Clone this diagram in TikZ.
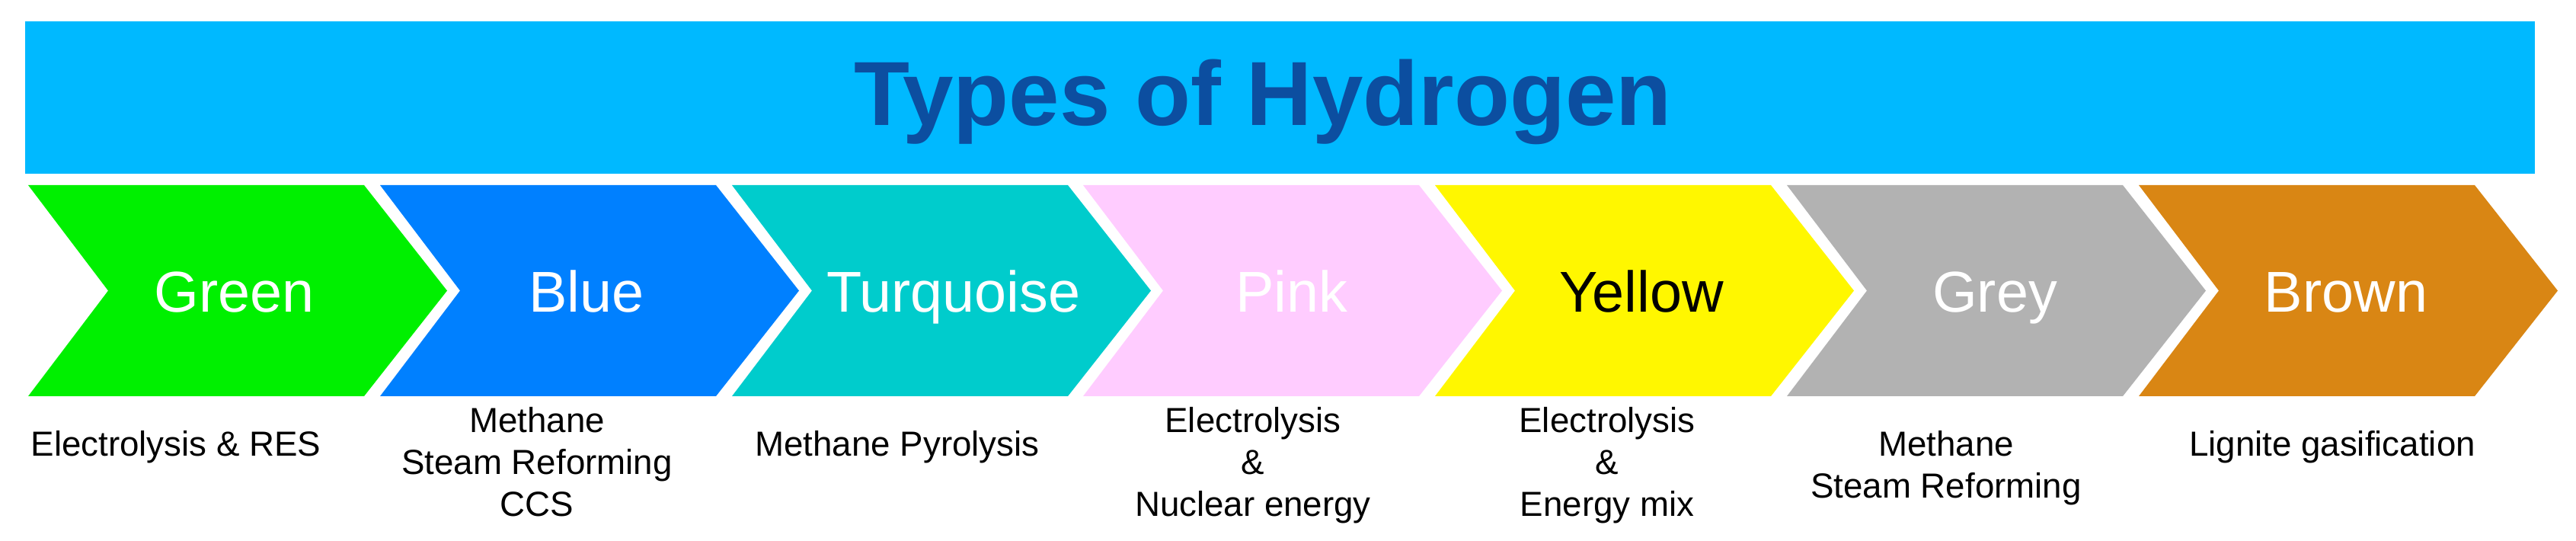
\documentclass[tikz,border=0pt]{standalone}
\usepackage{fontspec}
\setmainfont{Liberation Sans}
\usepackage{xcolor}
\usepackage{tikz}

\definecolor{bannerblue}{RGB}{0,185,255}
\definecolor{titleblue}{RGB}{12,78,160}
\definecolor{hgreen}{RGB}{0,240,0}
\definecolor{hblue}{RGB}{0,128,255}
\definecolor{hturq}{RGB}{0,204,204}
\definecolor{hpink}{RGB}{255,204,255}
\definecolor{hyellow}{RGB}{255,247,0}
\definecolor{hgrey}{RGB}{178,178,178}
\definecolor{hbrown}{RGB}{217,134,20}

\begin{document}
\begin{tikzpicture}[scale=1.0,
  kind/.style={font=\fontsize{21.5}{26}\selectfont, text=white, anchor=base, inner sep=0pt},
  route/.style={font=\fontsize{13}{15.6}\selectfont, align=center, anchor=north, inner sep=0pt}]

\useasboundingbox (0,0) rectangle (33.82,7.10);

% Title banner
\fill[bannerblue] (0.33,4.82) rectangle (33.28,6.82);
\node[font=\fontsize{34}{40}\selectfont\bfseries, text=titleblue, anchor=base, inner sep=0pt] (title) at (16.58,5.45) {Types of Hydrogen};

% Chevrons
\fill[hgreen] (0.37,4.67) -- ++(4.41,0) -- ++(1.09,-1.385) -- ++(-1.09,-1.385) -- ++(-4.41,0) -- ++(1.05,1.385) -- cycle;
\node[kind] (green) at (3.08,3.00) {Green};

\fill[hblue] (4.99,4.67) -- ++(4.41,0) -- ++(1.09,-1.385) -- ++(-1.09,-1.385) -- ++(-4.41,0) -- ++(1.05,1.385) -- cycle;
\node[kind] (blue) at (7.70,3.00) {Blue};

\fill[hturq] (9.61,4.67) -- ++(4.41,0) -- ++(1.09,-1.385) -- ++(-1.09,-1.385) -- ++(-4.41,0) -- ++(1.05,1.385) -- cycle;
\node[kind] (turquoise) at (12.52,3.00) {Turquoise};

\fill[hpink] (14.22,4.67) -- ++(4.41,0) -- ++(1.09,-1.385) -- ++(-1.09,-1.385) -- ++(-4.41,0) -- ++(1.05,1.385) -- cycle;
\node[kind] (pink) at (16.96,3.00) {Pink};

\fill[hyellow] (18.84,4.67) -- ++(4.41,0) -- ++(1.09,-1.385) -- ++(-1.09,-1.385) -- ++(-4.41,0) -- ++(1.05,1.385) -- cycle;
\node[kind, text=black] (yellow) at (21.55,3.00) {Yellow};

\fill[hgrey] (23.46,4.67) -- ++(4.41,0) -- ++(1.09,-1.385) -- ++(-1.09,-1.385) -- ++(-4.41,0) -- ++(1.05,1.385) -- cycle;
\node[kind] (grey) at (26.19,3.00) {Grey};

\fill[hbrown] (28.08,4.67) -- ++(4.41,0) -- ++(1.09,-1.385) -- ++(-1.09,-1.385) -- ++(-4.41,0) -- ++(1.05,1.385) -- cycle;
\node[kind] (brown) at (30.80,3.00) {Brown};

% Production routes
\node[route] (greenroute) at (2.31,1.45) {Electrolysis \& RES};
\node[route] (blueroute) at (7.05,1.76) {Methane\\Steam Reforming\\CCS};
\node[route] (turquoiseroute) at (11.78,1.45) {Methane Pyrolysis};
\node[route] (pinkroute) at (16.45,1.76) {Electrolysis\\\&\\Nuclear energy};
\node[route] (yellowroute) at (21.10,1.76) {Electrolysis\\\&\\Energy mix};
\node[route] (greyroute) at (25.55,1.45) {Methane\\Steam Reforming};
\node[route] (brownroute) at (30.62,1.45) {Lignite gasification};

\end{tikzpicture}
\end{document}
